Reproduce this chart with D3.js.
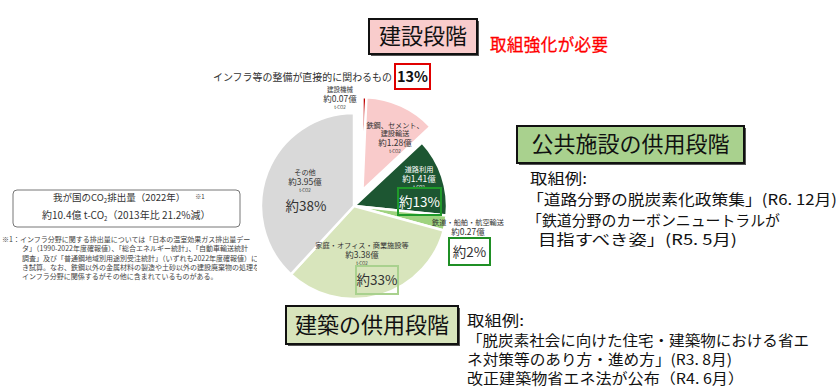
<!DOCTYPE html>
<html>
<head>
<meta charset="utf-8">
<script src="https://cdn.jsdelivr.net/npm/d3@7"></script>
<style>
  body { margin: 0; background: #fff; }
  text { font-family: "Noto Sans CJK JP", "Noto Sans", sans-serif; }
</style>
</head>
<body>
<div id="chart"></div>
<script>
// CO2 emissions by segment (100 million t-CO2), clockwise from 12 o'clock
var segments = ["建設機械", "鉄鋼、セメント、建設輸送", "道路利用", "鉄道・船舶・航空輸送", "家庭・オフィス・商業施設等", "その他"];
var emissions = [0.07, 1.28, 1.41, 0.27, 3.38, 3.95];
var amountLabels = ["約0.07億", "約1.28億", "約1.41億", "約0.27億", "約3.38億", "約3.95億"];
var shareLabels = ["", "", "約13%", "約2%", "約33%", "約38%"];
var exploded = [true, true, false, false, false, false];
var colors = ["#c00000", "#f9cbcb", "#1d5632", "#9fd37f", "#d8e5bc", "#d9d9d9"];

var notes = [
  "※1：インフラ分野に関する排出量については「日本の温室効果ガス排出量デー",
  "タ」（1990-2022年度確報値）、「総合エネルギー統計」、「自動車輸送統計",
  "調査」及び「普通鋼地域別用途別受注統計」（いずれも2022年度確報値）に基づ",
  "き試算。なお、鉄鋼以外の金属材料の製造や土砂以外の建設廃棄物の処理など",
  "インフラ分野に関係するがその他に含まれているものがある。"
];
var publicExamples = ["取組例:", "「道路分野の脱炭素化政策集」(R6. 12月)", "「鉄道分野のカーボンニュートラルが", "目指すべき姿」(R5. 5月)"];
var buildingExamples = ["取組例:", "「脱炭素社会に向けた住宅・建築物における省エ", "ネ対策等のあり方・進め方」(R3. 8月)", "改正建築物省エネ法が公布（R4. 6月）"];

var width = 840, height = 388;
var cx = 354, cy = 206, radius = 93;

var svg = d3.select("#chart").append("svg")
    .attr("width", width)
    .attr("height", height);

var pie = d3.pie().sort(null).startAngle(0).endAngle(2 * Math.PI);
var arcs = pie(emissions);
var arc = d3.arc().innerRadius(0).outerRadius(radius);

// offset of the exploded construction slices
var grp = arcs.filter((d, i) => exploded[i]);
var midA = (grp[0].startAngle + grp[grp.length - 1].endAngle) / 2 + 0.08;
var explode = 18;
var ex = Math.sin(midA) * explode, ey = -Math.cos(midA) * explode;

var pieG = svg.append("g").attr("transform", "translate(" + cx + "," + cy + ")");

pieG.selectAll("path")
    .data(arcs)
    .enter().append("path")
    .attr("d", arc)
    .attr("fill", (d, i) => colors[i])
    .attr("stroke", "#fff")
    .attr("stroke-width", 2.5)
    .attr("stroke-linejoin", "round")
    .attr("transform", (d, i) => exploded[i] ? "translate(" + ex + "," + ey + ")" : null);

// slice labels (offsets relative to pie centre, first line baseline)
var labelPos = [
  {x: -14, y: -114, gap: 7.5, lines: ["建設機械"], dark: true},
  {x: 41, y: -78, gap: 8, lines: ["鉄鋼、セメント、", "建設輸送"], dark: true},
  {x: 65, y: -34, gap: 8, lines: ["道路利用"], dark: false},
  {x: 114, y: 19, gap: 8, lines: ["鉄道・船舶・航空輸送"], dark: true},
  {x: 8, y: 42, gap: 8, lines: ["家庭・オフィス・商業施設等"], dark: true},
  {x: -49, y: -31, gap: 8, lines: ["その他"], dark: true}
];

labelPos.forEach(function(p, i) {
  var g = pieG.append("g").attr("transform", "translate(" + p.x + "," + p.y + ")");
  var fill = p.dark ? "#333" : "#fff";
  p.lines.forEach(function(l, j) {
    g.append("text").text(l)
      .attr("y", j * p.gap)
      .attr("text-anchor", "middle")
      .attr("font-size", i == 0 ? 6.5 : 7.2)
      .attr("fill", fill);
  });
  var yy = (p.lines.length - 1) * p.gap;
  g.append("text").text(amountLabels[i])
    .attr("y", yy + 10)
    .attr("text-anchor", "middle")
    .attr("font-size", 8.5)
    .attr("fill", fill);
  g.append("text").text("t-CO2")
    .attr("y", yy + 17)
    .attr("text-anchor", "middle")
    .attr("font-size", 4.5)
    .attr("fill", fill);
});

// share boxes
var shareBox = [
  null, null,
  {x: 44, y: -18, w: 43, h: 27, stroke: "#1f9a2a", fill: "none", color: "#fff"},
  {x: 95, y: 32, w: 41, h: 27, stroke: "#1f8f25", fill: "#fff", color: "#333"},
  {x: 2, y: 60, w: 42, h: 28, stroke: "#a9d18e", fill: "none", color: "#333"},
  {x: -69, y: -12, w: 0, h: 24, stroke: "none", fill: "none", color: "#333"}
];
shareBox.forEach(function(b, i) {
  if (!b) return;
  if (b.w > 0) {
    pieG.append("rect")
      .attr("x", b.x).attr("y", b.y)
      .attr("width", b.w).attr("height", b.h)
      .attr("fill", b.fill)
      .attr("stroke", b.stroke)
      .attr("stroke-width", 2);
  }
  pieG.append("text").text(shareLabels[i])
    .attr("x", b.w > 0 ? b.x + b.w / 2 : b.x + 21)
    .attr("y", b.y + b.h / 2 + 5)
    .attr("text-anchor", "middle")
    .attr("font-size", 13.5)
    .attr("fill", b.color);
});

// header boxes
function titleBox(x, y, w, h, fill, label, size) {
  svg.append("rect")
    .attr("x", x + 2).attr("y", y + 2)
    .attr("width", w).attr("height", h)
    .attr("fill", "#555");
  svg.append("rect")
    .attr("x", x).attr("y", y)
    .attr("width", w).attr("height", h)
    .attr("fill", fill)
    .attr("stroke", "#111")
    .attr("stroke-width", 2);
  svg.append("text").text(label)
    .attr("x", x + w / 2).attr("y", y + h / 2 + size * 0.36)
    .attr("text-anchor", "middle")
    .attr("font-size", size)
    .attr("fill", "#111");
}

titleBox(369, 19, 108, 35, "#f9cccc", "建設段階", 22);
svg.append("text").text("取組強化が必要")
  .attr("x", 490).attr("y", 51)
  .attr("font-size", 16.5)
  .attr("textLength", 118)
  .attr("stroke", "#ff0000")
  .attr("stroke-width", 0.3)
  .attr("fill", "#ff0000");

svg.append("text").text("インフラ等の整備が直接的に関わるもの")
  .attr("x", 213).attr("y", 81)
  .attr("font-size", 10)
  .attr("textLength", 179)
  .attr("lengthAdjust", "spacingAndGlyphs")
  .attr("fill", "#333");
svg.append("rect")
  .attr("x", 395).attr("y", 64)
  .attr("width", 35).attr("height", 25)
  .attr("fill", "#fff")
  .attr("stroke", "#e00000")
  .attr("stroke-width", 2);
svg.append("text").text("13%")
  .attr("x", 412.5).attr("y", 82)
  .attr("text-anchor", "middle")
  .attr("font-size", 14.5)
  .attr("font-weight", "bold")
  .attr("fill", "#111");

// 公共施設の供用段階
titleBox(517, 126, 227, 37, "#a9d18e", "公共施設の供用段階", 22);
var pubLayout = [{x: 530, y: 184, w: 57}, {x: 527, y: 205, w: 310}, {x: 527, y: 226, w: 253}, {x: 538, y: 245, w: 199}];
publicExamples.forEach(function(l, i) {
  svg.append("text").text(l)
    .attr("x", pubLayout[i].x).attr("y", pubLayout[i].y)
    .attr("font-size", 15)
    .attr("textLength", pubLayout[i].w)
    .attr("lengthAdjust", "spacingAndGlyphs")
    .attr("fill", "#111");
});

// 建築の供用段階
titleBox(286, 306, 172, 38, "#d7e4bc", "建築の供用段階", 22);
var bldLayout = [{y: 326, w: 57}, {y: 346, w: 342}, {y: 365, w: 265}, {y: 384, w: 277}];
buildingExamples.forEach(function(l, i) {
  svg.append("text").text(l)
    .attr("x", 467).attr("y", bldLayout[i].y)
    .attr("font-size", 14.5)
    .attr("textLength", bldLayout[i].w)
    .attr("lengthAdjust", "spacingAndGlyphs")
    .attr("fill", "#111");
});

// national total box
svg.append("rect")
  .attr("x", 13).attr("y", 190)
  .attr("width", 227).attr("height", 37)
  .attr("rx", 4)
  .attr("fill", "#fff")
  .attr("stroke", "#777")
  .attr("stroke-width", 1);
var t1 = svg.append("text").attr("x", 53).attr("y", 201).attr("font-size", 9.5).attr("fill", "#333");
t1.append("tspan").text("我が国のCO");
t1.append("tspan").text("2").attr("font-size", 6).attr("dy", 2);
t1.append("tspan").text("排出量（2022年）").attr("dy", -2);
t1.append("tspan").text("※1").attr("font-size", 6).attr("dx", 10).attr("dy", -2);
var t2 = svg.append("text").attr("x", 42).attr("y", 219).attr("font-size", 10).attr("fill", "#333");
t2.append("tspan").text("約10.4億 t-CO");
t2.append("tspan").text("2").attr("font-size", 6).attr("dy", 2);
t2.append("tspan").text("（2013年比 21.2%減）").attr("dy", -2);

// footnote, clipped where the pie begins
svg.append("clipPath").attr("id", "noteClip")
  .append("rect").attr("x", 0).attr("y", 230).attr("width", 257).attr("height", 60);
var noteG = svg.append("g").attr("clip-path", "url(#noteClip)");
notes.forEach(function(l, i) {
  noteG.append("text").text(l)
    .attr("x", i == 0 ? 2 : 22)
    .attr("y", 242 + i * 9.3)
    .attr("font-size", 7)
    .attr("fill", "#444");
});
</script>
</body>
</html>
